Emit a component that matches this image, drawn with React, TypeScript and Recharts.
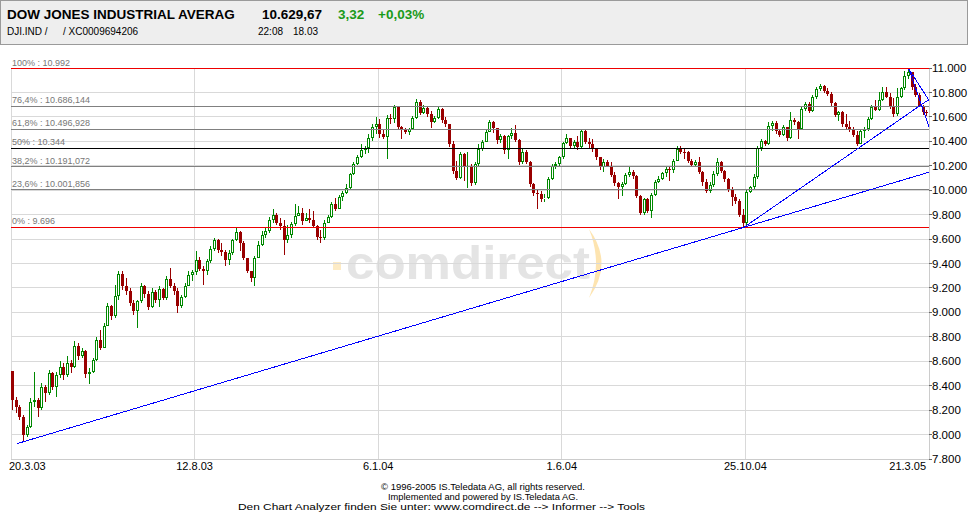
import React from 'react';
import { ComposedChart, Bar, XAxis, YAxis, CartesianGrid, ReferenceLine } from 'recharts';

// Dow Jones candles 20.3.03 - 21.3.05 (about two sessions per candle)
const dateTicks = [0, 50, 100, 150, 200, 250];
const dateLabels = ['20.3.03', '12.8.03', '6.1.04', '1.6.04', '25.10.04', '21.3.05'];
const priceTicks = [7800, 8000, 8200, 8400, 8600, 8800, 9000, 9200, 9400, 9600, 9800, 10000, 10200, 10400, 10600, 10800, 11000];

const firstOpen = 8520;
const closes = [
  8284, 8229, 8147, 7997, 8065, 8270, 8284, 8215, 8393, 8338,
  8502, 8393, 8489, 8557, 8489, 8584, 8557, 8726, 8639, 8680,
  8497, 8516, 8612, 8776, 8707, 8890, 9049, 8967, 9131, 9316,
  9213, 9172, 9076, 9008, 9090, 9213, 9152, 9043, 9163, 9103,
  9191, 9117, 9273, 9218, 9172, 9054, 9125, 9218, 9308, 9327,
  9426, 9355, 9336, 9417, 9519, 9590, 9513, 9491, 9426, 9486,
  9590, 9655, 9568, 9446, 9337, 9282, 9446, 9555, 9632, 9670,
  9760, 9801, 9733, 9706, 9596, 9637, 9725, 9788, 9815, 9747,
  9774, 9760, 9706, 9615, 9610, 9733, 9779, 9889, 9850, 9943,
  9979, 10020, 10129, 10216, 10271, 10326, 10342, 10430, 10517, 10539,
  10457, 10435, 10593, 10580, 10681, 10517, 10490, 10479, 10498, 10593,
  10725, 10634, 10675, 10621, 10561, 10593, 10662, 10572, 10539, 10375,
  10156, 10102, 10293, 10197, 10199, 10057, 10213, 10336, 10391, 10478,
  10560, 10505, 10412, 10440, 10330, 10440, 10472, 10412, 10227, 10314,
  10232, 10049, 9981, 9967, 9926, 9940, 10090, 10194, 10213, 10268,
  10385, 10431, 10363, 10391, 10350, 10486, 10391, 10377, 10336, 10268,
  10186, 10232, 10199, 10123, 10057, 10022, 10049, 10123, 10150, 10117,
  9953, 9811, 9926, 9830, 9959, 10068, 10095, 10139, 10177, 10166,
  10240, 10336, 10314, 10309, 10240, 10205, 10232, 10145, 10063, 9995,
  10044, 10131, 10227, 10158, 10090, 10008, 9945, 9913, 9798, 9735,
  9989, 10022, 10104, 10344, 10404, 10377, 10527, 10546, 10481, 10453,
  10519, 10426, 10574, 10555, 10500, 10664, 10705, 10645, 10765, 10828,
  10855, 10809, 10787, 10710, 10617, 10637, 10541, 10519, 10492, 10453,
  10382, 10481, 10500, 10582, 10683, 10656, 10738, 10800, 10765, 10683,
  10623, 10759, 10836, 10937, 10964, 10841, 10781, 10691, 10637, 10630,
];
const highs = [
  8516, 8311, 8243, 8161, 8079, 8297, 8516, 8297, 8420, 8407,
  8530, 8516, 8516, 8598, 8584, 8639, 8612, 8762, 8748, 8707,
  8694, 8543, 8625, 8797, 8857, 8912, 9076, 9062, 9226, 9336,
  9336, 9281, 9199, 9103, 9103, 9240, 9226, 9172, 9199, 9185,
  9213, 9199, 9295, 9363, 9240, 9199, 9144, 9240, 9336, 9349,
  9499, 9453, 9377, 9437, 9540, 9609, 9601, 9568, 9508, 9513,
  9601, 9691, 9665, 9583, 9446, 9337, 9460, 9583, 9665, 9692,
  9779, 9842, 9815, 9774, 9760, 9719, 9741, 9883, 9869, 9856,
  9815, 9842, 9829, 9719, 9678, 9760, 9796, 9905, 9932, 9960,
  9992, 10047, 10143, 10233, 10287, 10375, 10361, 10457, 10539, 10599,
  10580, 10498, 10615, 10626, 10697, 10689, 10525, 10506, 10511, 10607,
  10744, 10736, 10697, 10689, 10648, 10607, 10689, 10675, 10599, 10539,
  10402, 10238, 10315, 10307, 10309, 10213, 10227, 10377, 10412, 10500,
  10576, 10565, 10513, 10459, 10451, 10451, 10513, 10533, 10420, 10336,
  10330, 10240, 10057, 10008, 9994, 9967, 10104, 10213, 10227, 10281,
  10396, 10459, 10431, 10412, 10445, 10500, 10500, 10431, 10423, 10341,
  10268, 10254, 10248, 10227, 10150, 10068, 10068, 10139, 10199, 10166,
  10123, 9959, 9940, 9932, 9981, 10085, 10117, 10150, 10199, 10194,
  10254, 10363, 10358, 10336, 10322, 10259, 10248, 10268, 10158, 10090,
  10071, 10158, 10262, 10240, 10164, 10098, 10022, 9967, 9930, 9844,
  10008, 10036, 10131, 10363, 10418, 10410, 10555, 10568, 10568, 10500,
  10535, 10519, 10637, 10590, 10563, 10683, 10719, 10719, 10781, 10841,
  10869, 10863, 10836, 10800, 10719, 10650, 10650, 10623, 10568, 10514,
  10481, 10492, 10519, 10596, 10699, 10738, 10800, 10847, 10841, 10792,
  10754, 10836, 10847, 10978, 10992, 10970, 10869, 10792, 10699, 10656,
];
const lows = [
  8202, 8174, 8120, 7940, 7983, 8052, 8229, 8147, 8202, 8270,
  8325, 8366, 8311, 8461, 8448, 8475, 8502, 8543, 8612, 8625,
  8461, 8415, 8502, 8598, 8694, 8707, 8885, 8939, 8953, 9103,
  9185, 9144, 9049, 8980, 8871, 9076, 9117, 9021, 9035, 9076,
  9043, 9103, 9103, 9199, 9144, 8994, 9035, 9117, 9213, 9254,
  9308, 9336, 9226, 9308, 9404, 9499, 9486, 9458, 9377, 9390,
  9472, 9581, 9499, 9432, 9323, 9249, 9214, 9446, 9542, 9610,
  9651, 9733, 9714, 9678, 9473, 9569, 9610, 9710, 9788, 9719,
  9747, 9733, 9692, 9596, 9569, 9596, 9733, 9774, 9829, 9842,
  9910, 9965, 10006, 10124, 10206, 10266, 10293, 10307, 10402, 10457,
  10430, 10416, 10252, 10539, 10553, 10498, 10416, 10457, 10451, 10490,
  10580, 10615, 10621, 10599, 10511, 10553, 10580, 10553, 10517, 10353,
  10134, 10080, 10088, 10074, 10014, 10035, 10041, 10200, 10320, 10391,
  10478, 10472, 10377, 10385, 10295, 10254, 10423, 10391, 10205, 10213,
  10213, 10022, 9953, 9844, 9904, 9904, 9926, 10085, 10177, 10194,
  10259, 10377, 10341, 10336, 10330, 10335, 10377, 10336, 10314, 10248,
  10166, 10150, 10186, 10104, 10035, 9926, 9953, 10041, 10104, 10095,
  9940, 9795, 9800, 9811, 9776, 9953, 10057, 10085, 10112, 10076,
  10139, 10240, 10295, 10259, 10221, 10186, 10194, 10131, 10036, 9973,
  9973, 10027, 10117, 10137, 10071, 9989, 9872, 9891, 9781, 9696,
  9716, 9981, 10008, 10095, 10317, 10361, 10372, 10486, 10459, 10437,
  10445, 10404, 10415, 10535, 10418, 10492, 10650, 10628, 10637, 10746,
  10809, 10792, 10770, 10691, 10596, 10568, 10519, 10500, 10473, 10432,
  10363, 10377, 10426, 10481, 10574, 10645, 10645, 10732, 10754, 10664,
  10601, 10609, 10754, 10820, 10910, 10820, 10759, 10677, 10617, 10609,
];

// Fibonacci retracement between 9.696 and 10.992
const fibLevels = [10992, 10686.144, 10496.928, 10344, 10191.072, 10001.856, 9696];
const fibLabels = ['100% : 10.992', '76,4% : 10.686,144', '61,8% : 10.496,928', '50% : 10.344', '38,2% : 10.191,072', '23,6% : 10.001,856', '0% : 9.696'];
const fibColors = ['#ee0000', '#808080', '#808080', '#000000', '#808080', '#808080', '#ee0000'];

// trend lines: [candle position, index level] pairs
const trendLines = [
  [[1.55, 7925], [250, 10147]],
  [[199.6, 9696], [250, 10743]],
  [[244.5, 10992], [250, 10735]],
  [[244.5, 10992], [250, 10522]],
];

const candles = closes.map((c, i) => ({
  x: i + 0.5,
  open: i === 0 ? firstOpen : closes[i - 1],
  close: c,
  high: highs[i],
  low: lows[i],
}));

const UP = '#008800';
const DOWN = '#990000';
const FONT = '"Liberation Sans", Arial, sans-serif';

const Candle = (props: any) => {
  const { x, y, width, height } = props;
  const d = props.payload || props;
  if (x == null || y == null || d.high == null) return null;
  const top = Math.min(y, y + height);
  const h = Math.abs(height);
  const k = d.high === d.low ? 0 : h / (d.high - d.low);
  const py = (v: number) => top + (d.high - v) * k;
  const px = Math.round(x + width / 2 - 0.5);
  const up = d.close >= d.open;
  const yHi = Math.round(py(d.high));
  const yLo = Math.round(py(d.low));
  const bTop = Math.round(py(Math.max(d.open, d.close)));
  let bBot = Math.round(py(Math.min(d.open, d.close)));
  if (bBot - bTop < 1) bBot = bTop + 1;
  if (up) {
    return (
      <g>
        <line x1={px + 0.5} x2={px + 0.5} y1={yHi} y2={bTop} stroke={UP} />
        <line x1={px + 0.5} x2={px + 0.5} y1={bBot} y2={yLo} stroke={UP} />
        <rect x={px - 0.5} y={bTop + 0.5} width={2} height={Math.max(bBot - bTop - 1, 0)} fill="#fff" stroke={UP} />
      </g>
    );
  }
  return (
    <g>
      <line x1={px + 0.5} x2={px + 0.5} y1={yHi} y2={yLo} stroke={DOWN} />
      <rect x={px - 1} y={bTop} width={3} height={bBot - bTop} fill={DOWN} />
    </g>
  );
};

const DateTick = ({ x, y, index }: any) => {
  const last = dateTicks.length - 1;
  const anchor = index === 0 ? 'start' : index === last ? 'end' : 'middle';
  const dx = index === 0 ? -2 : index === last ? -3 : 0;
  return (
    <text x={x + dx} y={y + 11} textAnchor={anchor} fontSize={11} fill="#000" fontFamily={FONT}>
      {dateLabels[index]}
    </text>
  );
};

const fmtPrice = (v: number) => Math.floor(v / 1000) + '.' + String(v % 1000).padStart(3, '0');

const css = `
.recharts-cartesian-grid line, .recharts-reference-line-line, .recharts-cartesian-axis-line, .recharts-cartesian-axis-tick-line { shape-rendering: crispEdges; }
`;

const Backdrop = () => (
  <svg width={968} height={512} style={{ position: 'absolute', left: 0, top: 0 }} fontFamily={FONT}>
    <rect x={0.5} y={0.5} width={967} height={44} fill="#eeeeee" stroke="#9a9a9a" />
    <text x={7} y={19} fontSize={13.5} fontWeight="bold" fill="#000">DOW JONES INDUSTRIAL AVERAG</text>
    <text x={262} y={19} fontSize={13.5} fontWeight="bold" fill="#000">10.629,67</text>
    <text x={338} y={19} fontSize={13.5} fontWeight="bold" fill="#1a9a1a">3,32</text>
    <text x={378} y={19} fontSize={13.5} fontWeight="bold" fill="#1a9a1a">+0,03%</text>
    <text x={7} y={35} fontSize={10} fill="#000">DJI.IND /</text>
    <text x={63} y={35} fontSize={10} fill="#000">/ XC0009694206</text>
    <text x={258} y={35} fontSize={10} fill="#000">22:08</text>
    <text x={293} y={35} fontSize={10} fill="#000">18.03</text>

    {/* comdirect watermark */}
    <rect x={333} y={262} width={8} height={8} fill="#fdebc5" />
    <text x={346} y={279} fontSize={46} fontWeight="bold" fill="#e4e4e4" textLength={244} lengthAdjust="spacingAndGlyphs">comdirect</text>
    <path d="M589,229 Q614,263 589,298 Q603,263 589,229 Z" fill="#fde4b0" />

    <text x={483} y={490} fontSize={8.8} fill="#000" textAnchor="middle" textLength={204} lengthAdjust="spacingAndGlyphs">© 1996-2005 IS.Teledata AG, all rights reserved.</text>
    <text x={483} y={500} fontSize={8.8} fill="#000" textAnchor="middle" textLength={190} lengthAdjust="spacingAndGlyphs">Implemented and powered by IS.Teledata AG.</text>
    <text x={238} y={510} fontSize={8.8} fill="#000" textLength={407} lengthAdjust="spacingAndGlyphs">Den Chart Analyzer finden Sie unter: www.comdirect.de --&gt; Informer --&gt; Tools</text>
  </svg>
);

export default function App() {
  return (
    <div style={{ position: 'absolute', left: 0, top: 0, width: 968, height: 512, background: '#fff', fontFamily: FONT, overflow: 'hidden' }}>
      <style>{css}</style>
      <Backdrop />
      <div style={{ position: 'absolute', left: 0, top: 0 }}>
        <ComposedChart width={968} height={512} data={candles} margin={{ top: 68, right: 0, bottom: 33, left: 11 }}>
          <CartesianGrid stroke="#d9d9d9" />
          <XAxis
            type="number"
            dataKey="x"
            domain={[0, 250]}
            ticks={dateTicks}
            interval={0}
            height={20}
            tickSize={0}
            tickMargin={0}
            tickLine={false}
            axisLine={{ stroke: '#cccccc' }}
            tick={<DateTick />}
          />
          <YAxis
            orientation="right"
            type="number"
            domain={[7800, 11000]}
            ticks={priceTicks}
            interval={0}
            width={39}
            tickSize={3}
            tickMargin={0}
            tickLine={{ stroke: '#666666' }}
            axisLine={{ stroke: '#cccccc' }}
            tick={{ fill: '#000', fontSize: 11.5, fontFamily: FONT }}
            tickFormatter={fmtPrice}
          />
          <Bar
            dataKey={(d: any) => [d.low, d.high]}
            barSize={3}
            shape={<Candle />}
            isAnimationActive={false}
          />
          {fibLevels.map((lvl, i) => (
            <ReferenceLine
              key={'fib' + i}
              y={lvl}
              stroke={fibColors[i]}
              strokeWidth={1}
              label={({ viewBox }: any) => (
                <text x={viewBox.x + 1} y={viewBox.y - 3} fontSize={9} fill="#777" fontFamily={FONT}>
                  {fibLabels[i]}
                </text>
              )}
            />
          ))}
          {trendLines.map((seg, i) => (
            <ReferenceLine
              key={'trend' + i}
              segment={[{ x: seg[0][0], y: seg[0][1] }, { x: seg[1][0], y: seg[1][1] }]}
              stroke="#0000ff"
              strokeWidth={1}
            />
          ))}
        </ComposedChart>
      </div>
    </div>
  );
}
